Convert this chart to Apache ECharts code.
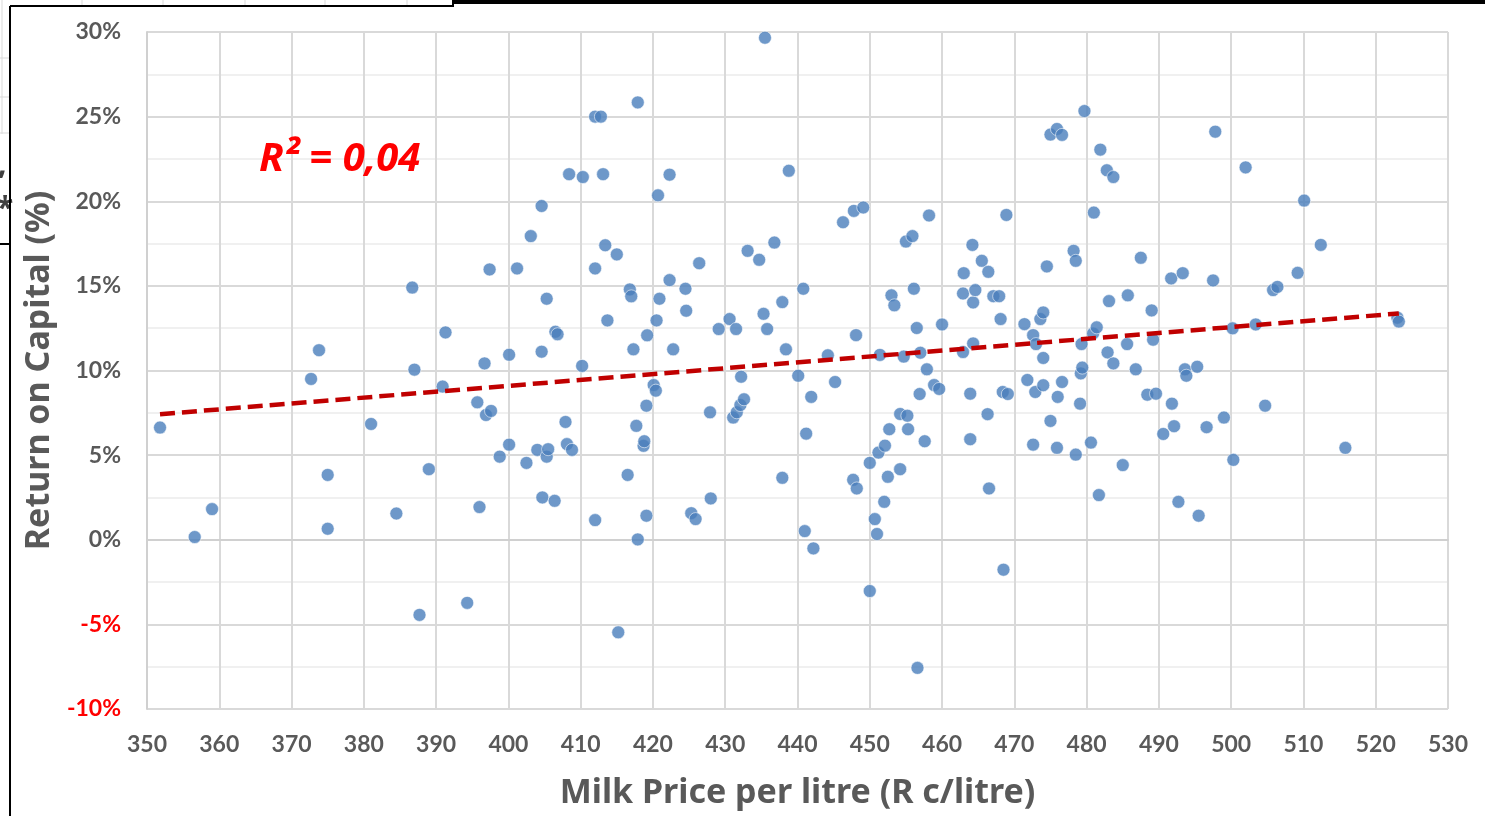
<!DOCTYPE html>
<html>
<head>
<meta charset="utf-8">
<title>Return on Capital vs Milk Price</title>
<script src="https://cdn.jsdelivr.net/npm/echarts@6/dist/echarts.min.js"></script>
<style>
  html, body { margin: 0; padding: 0; background: #ffffff; }
  #chart { width: 1485px; height: 816px; }
</style>
</head>
<body>
<div id="chart"></div>
<script>
// Milk price per litre (R c/litre) for each farm
const milkPrice = [
  351.8,356.6,359.0,372.7,373.8,375.0,375.0,381.0,384.5,386.7,
  387.0,387.7,389.0,390.9,391.3,394.3,395.7,396.0,396.7,396.9,
  397.4,397.6,398.8,400.1,400.1,401.2,402.5,403.1,404.0,404.6,
  404.6,404.7,405.3,405.3,405.5,406.4,406.5,406.8,407.9,408.1,
  408.4,408.8,410.2,410.3,412.0,412.0,412.0,412.8,413.1,413.4,
  413.7,415.0,415.2,416.5,416.8,417.0,417.3,417.7,417.9,417.9,
  418.7,418.8,419.1,419.1,419.2,420.1,420.4,420.5,420.7,420.9,
  422.3,422.3,422.8,424.5,424.6,425.3,425.9,426.4,427.9,428.0,
  429.1,430.6,431.1,431.5,431.6,432.1,432.2,432.6,433.1,434.7,
  435.3,435.5,435.8,436.8,437.9,437.9,438.4,438.8,440.1,440.8,
  441.0,441.2,441.9,442.2,444.2,445.2,446.3,447.7,447.8,448.1,
  448.2,449.1,450.0,450.0,450.7,451.0,451.2,451.4,452.0,452.1,
  452.5,452.7,453.0,453.4,454.2,454.2,454.7,455.0,455.2,455.3,
  455.9,456.1,456.5,456.6,456.9,457.0,457.6,457.9,458.2,458.9,
  459.6,460.0,462.9,462.9,463.0,463.9,463.9,464.2,464.3,464.3,
  464.6,465.5,466.3,466.4,466.5,467.1,467.9,468.1,468.4,468.5,
  468.9,469.1,471.4,471.8,472.6,472.6,472.9,473.0,473.6,474.0,
  474.0,474.0,474.5,475.0,475.0,475.9,475.9,476.0,476.6,476.6,
  478.2,478.5,478.5,479.1,479.2,479.3,479.4,479.7,480.6,480.9,
  481.0,481.4,481.7,481.9,482.8,482.9,483.1,483.7,483.7,485.0,
  485.6,485.7,486.8,487.5,488.4,489.0,489.2,489.6,490.6,491.7,
  491.8,492.1,492.7,493.3,493.6,493.8,495.3,495.5,496.6,497.5,
  497.8,499.0,500.2,500.3,502.0,503.4,504.7,505.8,506.4,509.2,
  510.1,512.4,515.8,523.0,523.2
];

// Return on capital (%) for the same farms, in the same order
const returnOnCapital = [
  6.63,0.16,1.81,9.50,11.20,3.83,0.65,6.84,1.55,14.90,
  10.05,-4.44,4.17,9.05,12.25,-3.73,8.12,1.93,10.42,7.37,
  15.97,7.61,4.91,10.93,5.62,16.03,4.54,17.94,5.31,19.72,
  11.11,2.50,14.24,4.91,5.35,2.30,12.29,12.14,6.96,5.65,
  21.60,5.31,10.27,21.43,25.00,16.03,1.16,25.00,21.60,17.40,
  12.96,16.86,-5.47,3.83,14.79,14.38,11.25,6.73,25.84,0.02,
  5.55,5.82,7.92,1.42,12.08,9.14,8.81,12.96,20.35,14.24,
  21.57,15.34,11.25,14.83,13.53,1.57,1.22,16.34,7.53,2.44,
  12.45,13.04,7.22,12.45,7.53,7.96,9.63,8.30,17.07,16.54,
  13.35,29.66,12.45,17.56,14.04,3.66,11.25,21.80,9.69,14.83,
  0.51,6.27,8.44,-0.51,10.90,9.32,18.76,3.54,19.43,12.09,
  3.03,19.63,4.54,-3.03,1.22,0.34,5.15,10.92,2.24,5.56,
  3.72,6.53,14.44,13.85,7.43,4.17,10.82,17.62,7.33,6.53,
  17.94,14.83,12.51,-7.57,8.61,11.05,5.82,10.07,19.16,9.14,
  8.91,12.72,14.55,11.09,15.75,8.63,5.94,17.42,14.02,11.60,
  14.75,16.48,7.42,15.83,3.03,14.39,14.39,13.04,8.73,-1.77,
  19.19,8.61,12.74,9.44,12.09,5.62,8.73,11.56,13.04,13.43,
  10.74,9.13,16.15,23.94,7.02,24.27,5.43,8.44,23.92,9.32,
  17.07,16.48,5.03,8.04,9.83,11.56,10.17,25.33,5.74,12.19,
  19.33,12.55,2.64,23.05,21.83,11.07,14.10,21.43,10.42,4.41,
  11.56,14.44,10.07,16.66,8.57,13.55,11.82,8.63,6.25,15.44,
  8.04,6.71,2.24,15.75,10.07,9.69,10.22,1.42,6.65,15.32,
  24.11,7.22,12.49,4.72,22.00,12.72,7.92,14.75,14.94,15.77,
  20.04,17.42,5.43,13.12,12.89
];

// Linear trend line end points (price, return %)
const trendPrice = [351.8, 523.2];
const trendReturn = [7.42, 13.37];

// Axis ranges and tick steps
const xTicks = { min: 350, max: 530, step: 10 };
const yTicks = { min: -10, max: 30, step: 5 };

const rSquaredText = 'R\u00B2 = 0,04';

const points = milkPrice.map((p, i) => [p, returnOnCapital[i]]);
const trend = trendPrice.map((p, i) => [p, trendReturn[i]]);

const FONT = 'Lato, "Noto Sans", sans-serif';
const TITLE_FONT = '"Noto Sans", Lato, sans-serif';
const GREY_TEXT = '#595959';

const chart = echarts.init(document.getElementById('chart'), null, { renderer: 'canvas' });

chart.setOption({
  backgroundColor: '#ffffff',
  animation: false,
  textStyle: { fontFamily: FONT },
  grid: { left: 147, right: 37, top: 32, bottom: 107, containLabel: false },
  xAxis: {
    type: 'value',
    min: xTicks.min, max: xTicks.max, interval: xTicks.step,
    name: 'Milk Price per litre (R c/litre)',
    nameLocation: 'middle',
    nameGap: 67,
    nameTextStyle: { fontFamily: TITLE_FONT, fontSize: 34, fontWeight: 'bold', color: GREY_TEXT },
    axisLine: { show: true, lineStyle: { color: '#D0D0D0', width: 2 } },
    axisTick: { show: false },
    axisLabel: { fontFamily: FONT, fontSize: 23, fontWeight: 'bold', color: GREY_TEXT, margin: 24 },
    splitLine: { show: true, lineStyle: { color: '#D9D9D9', width: 2 } }
  },
  yAxis: {
    type: 'value',
    min: yTicks.min, max: yTicks.max, interval: yTicks.step,
    name: 'Return on Capital (%)',
    nameLocation: 'middle',
    nameGap: 88,
    nameTextStyle: { fontFamily: TITLE_FONT, fontSize: 34, fontWeight: 'bold', color: GREY_TEXT },
    axisLine: { show: true, lineStyle: { color: '#D0D0D0', width: 2 } },
    axisTick: { show: false },
    axisLabel: {
      fontFamily: FONT, fontSize: 23, fontWeight: 'bold', margin: 26,
      formatter: v => v + '%',
      color: v => (Number(v) < 0 ? '#FF0000' : GREY_TEXT)
    },
    splitLine: { show: true, lineStyle: { color: '#D9D9D9', width: 2 } },
    minorTick: { show: false, splitNumber: 2 },
    minorSplitLine: { show: true, lineStyle: { color: '#F0F0F0', width: 2 } }
  },
  series: [
    {
      name: 'Farms',
      type: 'scatter',
      data: points,
      symbol: 'circle',
      symbolSize: 13,
      itemStyle: { color: '#4A7EBB', borderColor: 'rgba(255,255,255,0.7)', borderWidth: 1 },
      z: 2
    },
    {
      name: 'Linear trend',
      type: 'line',
      data: trend,
      symbol: 'none',
      lineStyle: { color: '#C00000', width: 4.5, type: [15, 7], cap: 'butt' },
      z: 3
    }
  ],
  graphic: [
    // R² annotation
    {
      type: 'text', left: 259, top: 140, z: 10,
      style: {
        text: rSquaredText, fill: '#FF0000',
        font: 'italic bold 40px ' + TITLE_FONT
      }
    },
    // neighbouring sheet peeking through above and to the left of the chart frame
    { type: 'line', shape: { x1: 82, y1: 0, x2: 82, y2: 5 }, style: { stroke: '#D9D9D9', lineWidth: 1 } },
    { type: 'line', shape: { x1: 163, y1: 0, x2: 163, y2: 5 }, style: { stroke: '#D9D9D9', lineWidth: 1 } },
    { type: 'line', shape: { x1: 245, y1: 0, x2: 245, y2: 5 }, style: { stroke: '#D9D9D9', lineWidth: 1 } },
    { type: 'line', shape: { x1: 325, y1: 0, x2: 325, y2: 5 }, style: { stroke: '#D9D9D9', lineWidth: 1 } },
    { type: 'line', shape: { x1: 407, y1: 0, x2: 407, y2: 5 }, style: { stroke: '#D9D9D9', lineWidth: 1 } },
    { type: 'line', shape: { x1: 2, y1: 0, x2: 2, y2: 134 }, style: { stroke: '#D9D9D9', lineWidth: 1 } },
    { type: 'line', shape: { x1: 0, y1: 58, x2: 10, y2: 58 }, style: { stroke: '#D9D9D9', lineWidth: 1 } },
    { type: 'line', shape: { x1: 0, y1: 97, x2: 10, y2: 97 }, style: { stroke: '#D9D9D9', lineWidth: 1 } },
    { type: 'line', shape: { x1: 0, y1: 133, x2: 10, y2: 133 }, style: { stroke: '#D9D9D9', lineWidth: 1 } },
    { type: 'text', left: -2, top: 150, style: { text: ',', fill: '#404040', font: 'bold 30px ' + TITLE_FONT } },
    { type: 'text', left: -3, top: 194, style: { text: '*', fill: '#404040', font: 'bold 30px ' + TITLE_FONT } },
    // chart frame
    { type: 'line', shape: { x1: 0, y1: 244, x2: 10, y2: 244 }, style: { stroke: '#000000', lineWidth: 2 } },
    { type: 'line', shape: { x1: 10, y1: 6, x2: 10, y2: 816 }, style: { stroke: '#000000', lineWidth: 2 } },
    { type: 'line', shape: { x1: 10, y1: 6, x2: 453, y2: 6 }, style: { stroke: '#000000', lineWidth: 2 } },
    { type: 'line', shape: { x1: 453, y1: 0, x2: 453, y2: 7 }, style: { stroke: '#000000', lineWidth: 2 } },
    { type: 'rect', shape: { x: 453, y: 0, width: 1032, height: 4 }, style: { fill: '#000000' } }
  ]
});
</script>
</body>
</html>
